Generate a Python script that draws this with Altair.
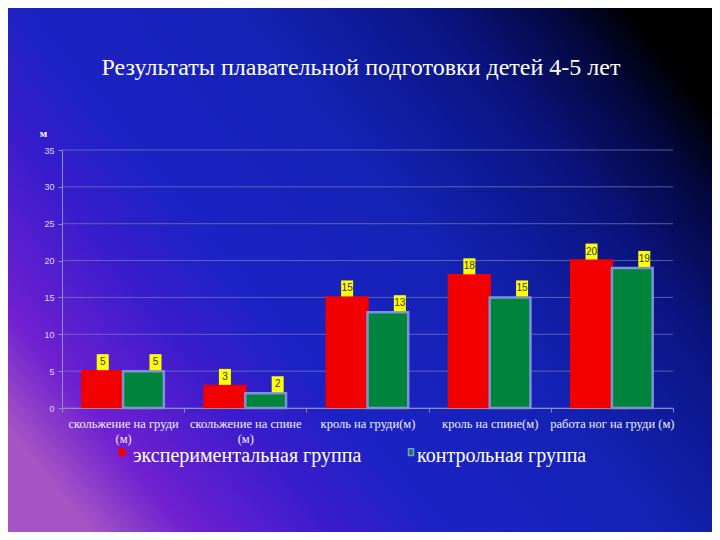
import altair as alt
import pandas as pd

categories = ["скольжение на груди\n(м)", "скольжение на спине\n(м)",
              "кроль на груди(м)", "кроль на спине(м)", "работа ног на груди (м)"]
groups = ["экспериментальная группа", "контрольная группа"]
experimental = [5, 3, 15, 18, 20]
control = [5, 2, 13, 15, 19]
y_ticks = [0, 5, 10, 15, 20, 25, 30, 35]
title_text = "Результаты плавательной подготовки детей 4-5 лет"
y_title = "м"

rows = []
for c, e, k in zip(categories, experimental, control):
    rows.append({"cat": c, "group": groups[0], "value": e})
    rows.append({"cat": c, "group": groups[1], "value": k})
df = pd.DataFrame(rows)
grid_df = pd.DataFrame({"value": y_ticks})

W, H = 611, 258
PADL, PADT, PADR, PADB = 54, 142, 39, 124

bg_grad = alt.LinearGradient(
    gradient="linear", x1=0, y1=0.8, x2=1, y2=0.2,
    stops=[
        alt.GradientStop(offset=0.0, color="#a454c4"),
        alt.GradientStop(offset=0.1, color="#7020d0"),
        alt.GradientStop(offset=0.25, color="#3a1ccc"),
        alt.GradientStop(offset=0.36, color="#1c22c4"),
        alt.GradientStop(offset=0.6, color="#1422b4"),
        alt.GradientStop(offset=0.8, color="#0a1480"),
        alt.GradientStop(offset=0.92, color="#040840"),
        alt.GradientStop(offset=1.0, color="#000000"),
    ],
)

background = alt.Chart(alt.Data(values=[{"a": 1}])).mark_rect(
    fill=bg_grad, clip=False
).encode(
    x=alt.value(-PADL), x2=alt.value(W + PADR),
    y=alt.value(-PADT), y2=alt.value(H + PADB),
)

title_layer = alt.Chart(alt.Data(values=[{"t": title_text}])).mark_text(
    font="Liberation Serif", fontSize=24, color="#ffffff",
    align="center", baseline="middle", clip=False
).encode(
    x=alt.value(299), y=alt.value(-82), text="t:N"
)

y_axis = alt.Axis(
    values=y_ticks, labelFont="Liberation Sans", labelFontSize=9,
    labelColor="#d8dcf4", labelPadding=4, tickSize=4, tickColor="#8890c0",
    labelOverlap=False, tickCount=8,
    domainColor="#8890c0", grid=False, titleAngle=0, titleX=-19, titleY=-17,
    titleAlign="center", titleBaseline="middle", titleColor="#ffffff",
    titleFont="Liberation Serif", titleFontSize=11, titleFontWeight="bold",
    zindex=1,
)
y_scale = alt.Scale(domain=[0, 35], nice=False)

grid = alt.Chart(grid_df).mark_rule(
    color="#7880b8", opacity=0.7, strokeWidth=1
).encode(
    y=alt.Y("value:Q", scale=y_scale, title=y_title, axis=y_axis)
)

x_enc = alt.X(
    "cat:N", sort=categories, title=None,
    scale=alt.Scale(paddingInner=0, paddingOuter=0),
    axis=alt.Axis(
        labelExpr="split(datum.label, '\\n')", labelAngle=0,
        labelFont="Liberation Serif", labelFontSize=12.5, labelColor="#eef0ff",
        labelLineHeight=15, labelPadding=5, tickBand="extent",
        tickSize=4, tickColor="#8890c0", domainColor="#8890c0",
        grid=False, labelBaseline="top", zindex=1, labelLimit=200,
    ),
)
xoff_enc = alt.XOffset(
    "group:N", sort=groups,
    scale=alt.Scale(domain=groups, paddingInner=0, paddingOuter=0.5),
)
y_enc = alt.Y("value:Q", title=y_title, scale=y_scale, axis=y_axis)

legend_def = alt.Legend(
    title=None, orient="none", legendX=50, legendY=296,
    direction="horizontal", symbolType="square", symbolSize=45,
    labelFont="Liberation Serif", labelFontSize=20, labelColor="#ffffff",
    labelOffset=1, columnPadding=34, symbolStrokeWidth=1.5, labelLimit=400,
)
color_enc = alt.Color(
    "group:N", sort=groups,
    scale=alt.Scale(domain=groups, range=["#f20000", "#00843c"]),
    legend=legend_def,
)
stroke_enc = alt.Stroke(
    "group:N", sort=groups,
    scale=alt.Scale(domain=groups, range=["#f20000", "#7d92d8"]),
    legend=legend_def,
)

bars = alt.Chart(df).mark_bar(strokeWidth=2.5).encode(
    x=x_enc, xOffset=xoff_enc, y=y_enc, color=color_enc, stroke=stroke_enc
)

box_red = "M-0.75,-2.125H0.75V-0.125H-0.75Z"
box_green = "M0.75,-2.125H2.25V-0.125H0.75Z"

boxes = alt.Chart(df).mark_point(
    filled=True, fill="#ffff00", stroke=None, opacity=1, size=256
).encode(
    x=alt.X("cat:N", sort=categories),
    xOffset=alt.XOffset("group:N", sort=groups),
    y=alt.Y("value:Q"),
    shape=alt.Shape("group:N", sort=groups,
                    scale=alt.Scale(domain=groups, range=[box_red, box_green]),
                    legend=None),
)

texts = []
for g, dx in zip(groups, [0, 12]):
    texts.append(
        alt.Chart(df).transform_filter(alt.datum.group == g).mark_text(
            dx=dx, dy=-9, baseline="middle", align="center",
            font="Liberation Sans", fontSize=10, color="#333333"
        ).encode(
            x=alt.X("cat:N", sort=categories),
            xOffset=alt.XOffset("group:N", sort=groups),
            y=alt.Y("value:Q"),
            text=alt.Text("value:Q"),
        )
    )

chart = alt.layer(background, title_layer, grid, bars, boxes, *texts).properties(
    width=W, height=H,
    autosize=alt.AutoSizeParams(type="none"),
    padding={"left": PADL, "top": PADT, "right": PADR, "bottom": PADB},
    background="#1520b0",
).configure_view(stroke=None).configure_legend(
    labelFont="Liberation Serif", labelFontSize=20, labelColor="#ffffff",
    labelLimit=400,
)

chart.save("out.html", embed_options={"renderer": "svg", "actions": False})
